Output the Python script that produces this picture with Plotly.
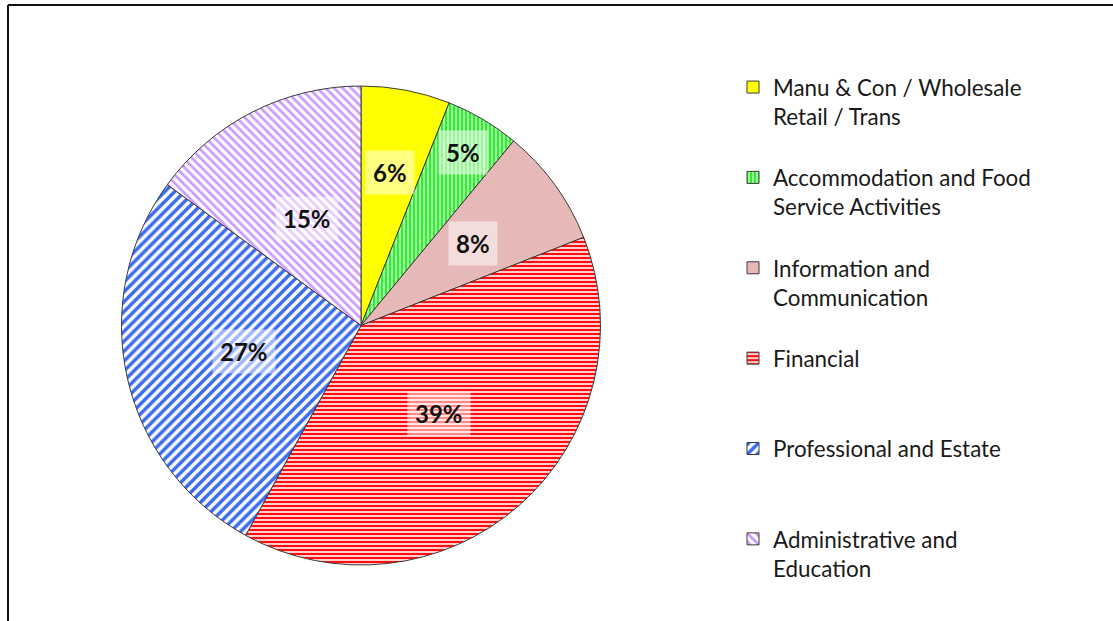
import math
import plotly.graph_objects as go

# Sector breakdown
categories = [
    "Manu & Con / Wholesale<br>Retail / Trans",
    "Accommodation and Food<br>Service Activities",
    "Information and<br>Communication",
    "Financial",
    "Professional and Estate",
    "Administrative and<br>Education",
]
shares = [6, 5, 8, 39, 27, 15]

# Fill styles per sector
base_colors = ["#FFFF00", "#2EF02E", "#E6B9B8", "#FF1010", "#3A6BF0", "#CC99FF"]
pattern_shapes = ["", "|", "", "-", "/", "\\"]
pattern_sizes = [6, 4, 6, 4, 7, 6]
pattern_solidity = [0.5, 0.72, 0.5, 0.6, 0.5, 0.45]

W, H = 1113, 621
dom_x = [121 / W, 601 / W]
dom_y = [1 - 565 / H, 1 - 86 / H]

# Radial placement of each percentage label (fraction of radius)
label_r = [0.65, 0.84, 0.58, 0.49, 0.50, 0.50]

def pad_lines(name, total=3):
    n = name.count("<br>") + 1
    return name + "<br>&nbsp;" * (total - n)

fig = go.Figure()
fig.add_trace(go.Pie(
    labels=[pad_lines(c) for c in categories],
    values=shares,
    sort=False,
    direction="clockwise",
    rotation=0,
    textinfo="none",
    hoverinfo="label+percent",
    domain=dict(x=dom_x, y=dom_y),
    marker=dict(
        colors=base_colors,
        line=dict(color="#3a3a3a", width=1),
        pattern=dict(
            shape=pattern_shapes,
            fgcolor=base_colors,
            bgcolor=["#FFFFFF" if s else c for s, c in zip(pattern_shapes, base_colors)],
            size=pattern_sizes,
            solidity=pattern_solidity,
            fillmode="replace",
        ),
    ),
))

# Percentage labels with translucent boxes
cx_px = (dom_x[0] + dom_x[1]) / 2 * W
cy_px = (1 - (dom_y[0] + dom_y[1]) / 2) * H
radius = min((dom_x[1] - dom_x[0]) * W, (dom_y[1] - dom_y[0]) * H) / 2
total = sum(shares)
cum = 0
for v, rf in zip(shares, label_r):
    mid = (cum + v / 2) / total * 2 * math.pi
    cum += v
    px = cx_px + rf * radius * math.sin(mid)
    py = cy_px - rf * radius * math.cos(mid)
    fig.add_annotation(
        x=px / W, y=1 - py / H, xref="paper", yref="paper",
        xanchor="center", yanchor="middle",
        text=f"<b>{round(v / total * 100)}%</b>",
        showarrow=False,
        font=dict(family="Lato, 'Open Sans', sans-serif", size=24, color="#111111"),
        bgcolor="rgba(255,255,255,0.5)",
        borderpad=7,
    )

# Frame lines along the top and left edges
fig.add_shape(type="line", xref="paper", yref="paper",
              x0=8 / W, x1=1, y0=1 - 5 / H, y1=1 - 5 / H,
              line=dict(color="#111111", width=2))
fig.add_shape(type="line", xref="paper", yref="paper",
              x0=8 / W, x1=8 / W, y0=0, y1=1 - 5 / H,
              line=dict(color="#111111", width=2))

fig.update_layout(
    width=W, height=H,
    margin=dict(l=0, r=0, t=0, b=0),
    paper_bgcolor="white",
    plot_bgcolor="white",
    showlegend=True,
    legend=dict(
        x=733 / W, xanchor="left",
        y=1 - 66 / H, yanchor="top",
        font=dict(family="Lato, 'Open Sans', sans-serif", size=22.4, color="#1a1a1a"),
        valign="top",
        bgcolor="rgba(0,0,0,0)",
        itemclick=False,
    ),
)

fig.write_html("out.html")
